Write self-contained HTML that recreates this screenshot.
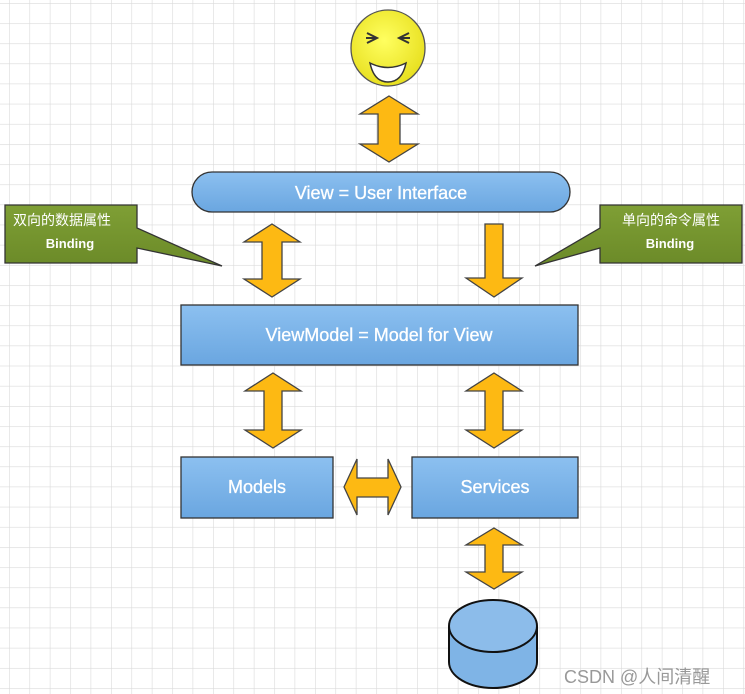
<!DOCTYPE html>
<html><head><meta charset="utf-8"><style>
html,body{margin:0;padding:0;background:#fff;}
svg{display:block;}
</style></head><body>
<svg width="745" height="694" viewBox="0 0 745 694" xmlns="http://www.w3.org/2000/svg">
<defs>
<pattern id="g" x="9" y="3" width="20.4" height="20.15" patternUnits="userSpaceOnUse">
<path d="M0 0V20.15M0 0H20.4" stroke="#dadada" stroke-width="1.2" fill="none"/>
</pattern>
<linearGradient id="b" x1="0" y1="0" x2="0" y2="1"><stop offset="0" stop-color="#8cc0f0"/><stop offset="1" stop-color="#6aa6e0"/></linearGradient>
<linearGradient id="gr" x1="0" y1="0" x2="0" y2="1"><stop offset="0" stop-color="#7f9f35"/><stop offset="1" stop-color="#6b8a28"/></linearGradient>
<radialGradient id="y" cx="0.45" cy="0.4" r="0.6"><stop offset="0" stop-color="#ffff60"/><stop offset="1" stop-color="#e8e020"/></radialGradient>
</defs>
<rect width="745" height="694" fill="url(#g)"/>
<g stroke="#444" stroke-width="1.3" fill="#fdb913" stroke-linejoin="miter">
<path d="M389 96 L418 114 L400 114 L400 144 L418 144 L389 162 L360 144 L378 144 L378 114 L360 114 Z"/>
<path d="M272 224 L300 242 L282 242 L282 279 L300 279 L272 297 L244 279 L262 279 L262 242 L244 242 Z"/>
<path d="M485 224 L503 224 L503 278 L522 278 L494 297 L466 278 L485 278 Z"/>
<path d="M273 373 L301 391 L282 391 L282 430 L301 430 L273 448 L245 430 L264 430 L264 391 L245 391 Z"/>
<path d="M494 373 L522 391 L503 391 L503 430 L522 430 L494 448 L466 430 L485 430 L485 391 L466 391 Z"/>
<path d="M344 487 L357 459 L357 478 L388 478 L388 459 L401 487 L388 515 L388 497 L357 497 L357 515 Z"/>
<path d="M494 528 L522 545 L503 545 L503 572 L522 572 L494 589 L466 572 L485 572 L485 545 L466 545 Z"/>
</g>
<ellipse cx="388" cy="48" rx="37" ry="38" fill="url(#y)" stroke="#555" stroke-width="1.3"/>
<path d="M367 33 L377 38 L367 43 M409 33 L399 38 L409 43 M366 38 H377 M399 38 H410" stroke="#333" stroke-width="2" fill="none"/>
<path d="M370 63 Q388 72 406 63 Q402 82 388 82 Q374 82 370 63 Z" fill="#fff" stroke="#333" stroke-width="1.5"/>
<rect x="192" y="172" width="378" height="40" rx="20" fill="url(#b)" stroke="#333" stroke-width="1.3"/>
<text x="381" y="199" text-anchor="middle" font-family="Liberation Sans, sans-serif" font-size="18" fill="#fff" stroke="#fff" stroke-width="0.3">View = User Interface</text>
<path d="M5 205 H137 V228 L222 266 L137 248 V263 H5 Z" fill="url(#gr)" stroke="#333" stroke-width="1.3"/>
<text x="62" y="225" text-anchor="middle" font-family="Liberation Sans, Noto Sans CJK SC, sans-serif" font-size="14" fill="#fff">双向的数据属性</text>
<text x="70" y="248" text-anchor="middle" font-family="Liberation Sans, sans-serif" font-size="13" font-weight="bold" fill="#fff">Binding</text>
<path d="M742 205 H600 V228 L535 266 L600 248 V263 H742 Z" fill="url(#gr)" stroke="#333" stroke-width="1.3"/>
<text x="671" y="225" text-anchor="middle" font-family="Liberation Sans, Noto Sans CJK SC, sans-serif" font-size="14" fill="#fff">单向的命令属性</text>
<text x="670" y="248" text-anchor="middle" font-family="Liberation Sans, sans-serif" font-size="13" font-weight="bold" fill="#fff">Binding</text>
<rect x="181" y="305" width="397" height="60" fill="url(#b)" stroke="#333" stroke-width="1.3"/>
<text x="379" y="341" text-anchor="middle" font-family="Liberation Sans, sans-serif" font-size="18" fill="#fff" stroke="#fff" stroke-width="0.3">ViewModel = Model for View</text>
<rect x="181" y="457" width="152" height="61" fill="url(#b)" stroke="#333" stroke-width="1.3"/>
<text x="257" y="493" text-anchor="middle" font-family="Liberation Sans, sans-serif" font-size="18" fill="#fff" stroke="#fff" stroke-width="0.3">Models</text>
<rect x="412" y="457" width="166" height="61" fill="url(#b)" stroke="#333" stroke-width="1.3"/>
<text x="495" y="493" text-anchor="middle" font-family="Liberation Sans, sans-serif" font-size="18" fill="#fff" stroke="#fff" stroke-width="0.3">Services</text>
<path d="M449 626 V662 A44 26 0 0 0 537 662 V626" fill="#7fb4e6" stroke="#111" stroke-width="2"/>
<ellipse cx="493" cy="626" rx="44" ry="26" fill="#8cbcea" stroke="#111" stroke-width="2"/>
<text x="564" y="683" font-family="Liberation Sans, Noto Sans CJK SC, sans-serif" font-size="18" fill="#999">CSDN @人间清醒</text>
</svg>
</body></html>
